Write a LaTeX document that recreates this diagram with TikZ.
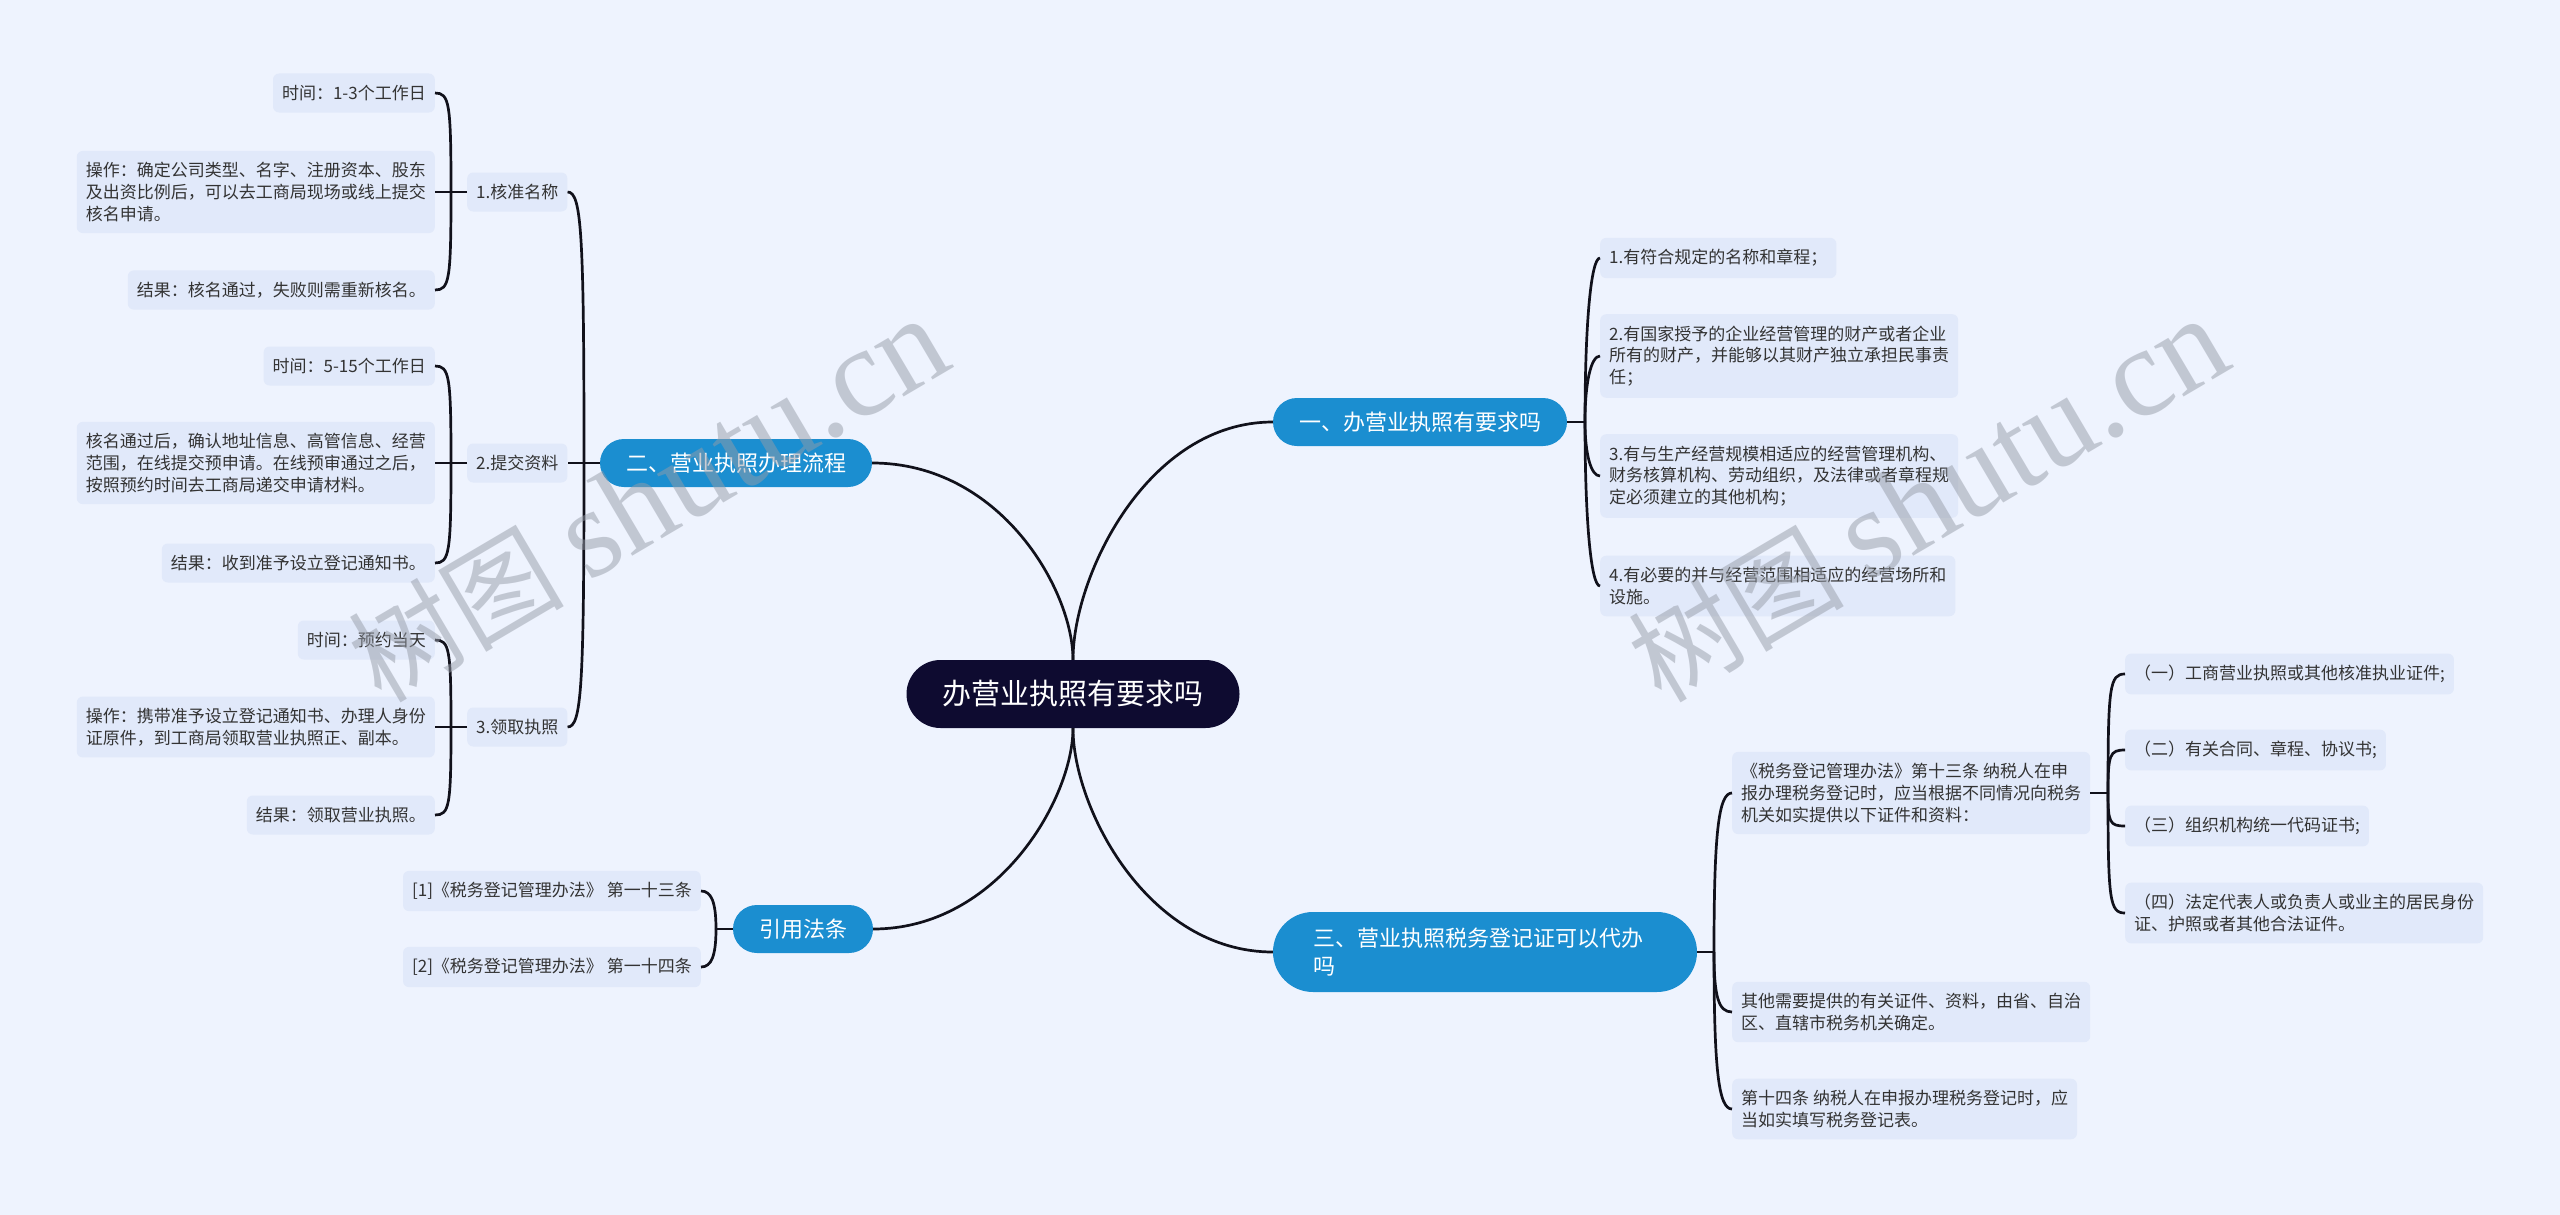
\documentclass[tikz,border=0pt]{standalone}
\usepackage{fontspec}
\setmainfont{Noto Sans CJK SC}
\newfontfamily\wmfont{Liberation Serif}
\usetikzlibrary{calc}
\definecolor{bgc}{RGB}{238,243,254}
\definecolor{leafc}{RGB}{225,233,250}
\definecolor{brc}{RGB}{27,142,208}
\definecolor{rootc}{RGB}{14,11,48}
\definecolor{linec}{RGB}{17,17,27}
\definecolor{txtc}{RGB}{51,51,51}
\definecolor{wmc}{RGB}{150,156,168}

\begin{document}
\begin{tikzpicture}[x=1pt,y=-1pt,
    root/.style={rectangle,fill=rootc,text=white,rounded corners=34pt,minimum height=68pt,inner xsep=36pt,font=\fontsize{29}{34}\selectfont},
    branch/.style={rectangle,fill=brc,text=white,rounded corners=24pt,minimum height=48pt,inner xsep=26pt,font=\fontsize{22}{27}\selectfont},
    leaf/.style={rectangle,fill=leafc,text=txtc,rounded corners=6pt,minimum height=39pt,inner xsep=9pt,inner ysep=11.5pt,align=left,font=\fontsize{17}{21.7}\selectfont},
    conn/.style={draw=linec,line width=2.7pt},
    crv/.style={to path={.. controls ($(\tikztostart)!#1!(\tikztostart|-\tikztotarget)$) and ($(\tikztotarget)!#1!(\tikztostart|-\tikztotarget)$) .. (\tikztotarget)}},
    crv/.default=0.9,
    wmk/.style={text=wmc,opacity=0.5,rotate=30.5,font=\fontsize{108}{108}\selectfont},
]
\useasboundingbox (0,0) rectangle (2560,1215);
\fill[bgc] (0,0) rectangle (2560,1215);

\node[root] (rt) at (1073,694) {办营业执照有要求吗};

\node[branch] (b1) at (1420,422) {一、办营业执照有要求吗};
\node[branch] (b2) at (736,463) {二、营业执照办理流程};
\node[branch,minimum height=80pt,rounded corners=40pt,inner xsep=40pt,text width=344pt,align=left,font=\fontsize{22}{28}\selectfont] (b3) at (1485,952) {三、营业执照税务登记证可以代办\\吗};
\node[branch] (b4) at (803,929) {引用法条};

\node[leaf,anchor=west] (s1) at (467,192) {1.核准名称};
\node[leaf,anchor=west] (s2) at (467,463) {2.提交资料};
\node[leaf,anchor=west] (s3) at (467,727) {3.领取执照};

\node[leaf,anchor=east] (l11) at (435,93) {时间：1-3个工作日};
\node[leaf,anchor=east] (l12) at (435,192) {操作：确定公司类型、名字、注册资本、股东\\及出资比例后，可以去工商局现场或线上提交\\核名申请。};
\node[leaf,anchor=east] (l13) at (435,290) {结果：核名通过，失败则需重新核名。};

\node[leaf,anchor=east] (l21) at (435,366) {时间：5-15个工作日};
\node[leaf,anchor=east] (l22) at (435,463) {核名通过后，确认地址信息、高管信息、经营\\范围，在线提交预申请。在线预审通过之后，\\按照预约时间去工商局递交申请材料。};
\node[leaf,anchor=east] (l23) at (435,563) {结果：收到准予设立登记通知书。};

\node[leaf,anchor=east] (l31) at (435,640) {时间：预约当天};
\node[leaf,anchor=east] (l32) at (435,727) {操作：携带准予设立登记通知书、办理人身份\\证原件，到工商局领取营业执照正、副本。};
\node[leaf,anchor=east] (l33) at (435,815) {结果：领取营业执照。};

\node[leaf,anchor=east] (f1) at (701,891) {[1]《税务登记管理办法》 第一十三条};
\node[leaf,anchor=east] (f2) at (701,967) {[2]《税务登记管理办法》 第一十四条};

\node[leaf,anchor=west] (r1) at (1600,258) {1.有符合规定的名称和章程；};
\node[leaf,anchor=west] (r2) at (1600,356) {2.有国家授予的企业经营管理的财产或者企业\\所有的财产，并能够以其财产独立承担民事责\\任；};
\node[leaf,anchor=west] (r3) at (1600,476) {3.有与生产经营规模相适应的经营管理机构、\\财务核算机构、劳动组织，及法律或者章程规\\定必须建立的其他机构；};
\node[leaf,anchor=west] (r4) at (1600,586) {4.有必要的并与经营范围相适应的经营场所和\\设施。};

\node[leaf,anchor=west] (t1) at (1732,793) {《税务登记管理办法》第十三条 纳税人在申\\报办理税务登记时，应当根据不同情况向税务\\机关如实提供以下证件和资料：};
\node[leaf,anchor=west] (t2) at (1732,1012) {其他需要提供的有关证件、资料，由省、自治\\区、直辖市税务机关确定。};
\node[leaf,anchor=west] (t3) at (1732,1109) {第十四条 纳税人在申报办理税务登记时，应\\当如实填写税务登记表。};

\node[leaf,anchor=west] (d1) at (2125,674) {（一）工商营业执照或其他核准执业证件;};
\node[leaf,anchor=west] (d2) at (2125,750) {（二）有关合同、章程、协议书;};
\node[leaf,anchor=west] (d3) at (2125,826) {（三）组织机构统一代码证书;};
\node[leaf,anchor=west] (d4) at (2125,913) {（四）法定代表人或负责人或业主的居民身份\\证、护照或者其他合法证件。};

\coordinate (j1) at (1585,422);
\coordinate (j2) at (584,463);
\coordinate (j3) at (1714,952);
\coordinate (j4) at (716,929);
\coordinate (j21) at (451,192);
\coordinate (j22) at (451,463);
\coordinate (j23) at (451,727);
\coordinate (j31) at (2108,793);

\draw[conn] (rt.north) .. controls +(0,-70) and +(128,0) .. (b2.east);
\draw[conn] (rt.north) .. controls +(0,-85) and +(-125,0) .. (b1.west);
\draw[conn] (rt.south) .. controls +(0,80) and +(-125,0) .. (b3.west);
\draw[conn] (rt.south) .. controls +(0,70) and +(125,0) .. (b4.east);

\draw[conn] (b1.east) -- (j1);
\draw[conn] (j1) to[crv=0.6] (r1.west); \draw[conn] (j1) to[crv=0.6] (r2.west); \draw[conn] (j1) to[crv=0.6] (r3.west); \draw[conn] (j1) to[crv=0.6] (r4.west);

\draw[conn] (b2.west) -- (j2);
\draw[conn] (j2) to[crv=0.85] (s1.east); \draw[conn] (j2) to[crv] (s2.east); \draw[conn] (j2) to[crv=0.85] (s3.east);

\draw[conn] (s1.west) -- (j21);
\draw[conn] (j21) to[crv] (l11.east); \draw[conn] (j21) to[crv] (l12.east); \draw[conn] (j21) to[crv] (l13.east);
\draw[conn] (s2.west) -- (j22);
\draw[conn] (j22) to[crv] (l21.east); \draw[conn] (j22) to[crv] (l22.east); \draw[conn] (j22) to[crv] (l23.east);
\draw[conn] (s3.west) -- (j23);
\draw[conn] (j23) to[crv] (l31.east); \draw[conn] (j23) to[crv] (l32.east); \draw[conn] (j23) to[crv] (l33.east);

\draw[conn] (b4.west) -- (j4);
\draw[conn] (j4) to[crv=0.7] (f1.east); \draw[conn] (j4) to[crv=0.7] (f2.east);

\draw[conn] (b3.east) -- (j3);
\draw[conn] (j3) to[crv=0.75] (t1.west); \draw[conn] (j3) to[crv=0.75] (t2.west); \draw[conn] (j3) to[crv=0.75] (t3.west);

\draw[conn] (t1.east) -- (j31);
\draw[conn] (j31) to[crv] (d1.west); \draw[conn] (j31) to[crv] (d2.west); \draw[conn] (j31) to[crv] (d3.west); \draw[conn] (j31) to[crv] (d4.west);

\node[wmk] (wm1) at (648,500) {树图 {\wmfont\fontsize{127}{127}\selectfont shutu.cn}};
\node[wmk] (wm2) at (1928,500) {树图 {\wmfont\fontsize{127}{127}\selectfont shutu.cn}};
\end{tikzpicture}
\end{document}
